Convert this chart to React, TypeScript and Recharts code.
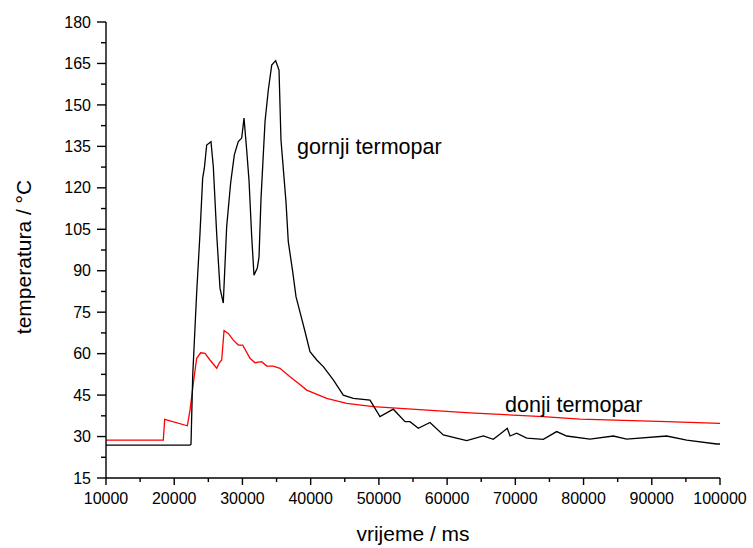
import React from 'react';
import { LineChart, Line, XAxis, YAxis, ReferenceDot, Label } from 'recharts';

// gornji termopar (upper thermocouple)
const gornjiTime = [
  10000, 22300, 22460, 22710, 23290, 23780, 24170, 24410, 24760, 25390, 25730, 26230, 26710, 27190,
  27690, 28280, 28810, 29390, 29890, 30230, 30620, 30960, 31360, 31690, 32180, 32430, 32720,
  33310, 33790, 34290, 34870, 35360, 35650, 36380, 36720, 37370, 37850, 38540, 39170, 39900,
  40890, 41850, 43320, 44300, 44780, 46250, 48700, 49430, 50160, 52110, 53830, 54560, 55780,
  57490, 59440, 62870, 65310, 66770, 68240, 68820, 69220, 70200, 71670, 74100, 76060, 77530,
  80940, 84360, 86320, 92180, 95120, 99520, 100000,
];
const gornjiTemp = [
  26.9, 26.9, 27.2, 52, 82, 103.6, 123.5, 127, 135.5, 136.7, 127.6, 103, 83.7, 78.3,
  106, 122, 131.9, 136.7, 138, 145.2, 133.7, 122.8, 102.3, 88.4, 91, 95, 116,
  144, 155.4, 164.4, 166, 162.6, 137.3, 115, 100.5, 89.6, 80.6, 74, 68, 60.7,
  57.7, 55.3, 50.5, 46.8, 45, 43.8, 43.2, 40.2, 37.2, 39.9, 35.4, 35.4, 33,
  35.1, 30.6, 28.5, 30.2, 29, 31.8, 33, 30.2, 31.2, 29.4, 29, 31.8, 30.2,
  29.1, 30.2, 29.1, 30.2, 28.7, 27.3, 27.3,
];

// donji termopar (lower thermocouple)
const donjiTime = [
  10000, 18400, 18600, 21920, 22310, 22800, 23290, 23880, 24510, 25240, 26230, 26610, 26960,
  27300, 27930, 28660, 29390, 30040, 31110, 31840, 32820, 33560, 34520, 35500, 36970, 38190,
  39420, 42350, 45280, 49180, 53100, 63360, 74060, 79480, 92230, 100000,
];
const donjiTemp = [
  28.7, 28.7, 36.2, 33.9, 39.4, 49.3, 58.3, 60.3, 60.1, 57.7, 54.7, 56.7, 57.7,
  68.3, 67.3, 64.9, 63.1, 63.1, 58.3, 56.7, 57.1, 55.5, 55.5, 54.7, 51.6, 49.3,
  46.8, 43.8, 42, 40.8, 40.2, 38.6, 37.2, 36.3, 35.4, 34.8,
];

const xMajorTicks = [10000, 20000, 30000, 40000, 50000, 60000, 70000, 80000, 90000, 100000];
const xMinorTicks = [15000, 25000, 35000, 45000, 55000, 65000, 75000, 85000, 95000];
const yMajorTicks = [15, 30, 45, 60, 75, 90, 105, 120, 135, 150, 165, 180];
const yMinorTicks = [22.5, 37.5, 52.5, 67.5, 82.5, 97.5, 112.5, 127.5, 142.5, 157.5, 172.5];

const gornjiData = gornjiTime.map((ms, i) => ({ ms, t: gornjiTemp[i] }));
const donjiData = donjiTime.map((ms, i) => ({ ms, t: donjiTemp[i] }));
const xTicks = [...xMajorTicks, ...xMinorTicks].sort((a, b) => a - b);
const yTicks = [...yMajorTicks, ...yMinorTicks].sort((a, b) => a - b);

const FONT = '"Liberation Sans", Arial, sans-serif';
const X_TICK_SIZE = 7;
const X_TICK_MARGIN = 8;
const Y_TICK_SIZE = 9;
const Y_TICK_MARGIN = 6;

const XTick = (props: any) => {
  const { x, y, payload } = props;
  const v = payload.value;
  const major = xMajorTicks.includes(v);
  const y0 = y - X_TICK_SIZE - X_TICK_MARGIN;
  return (
    <g>
      <line x1={x} x2={x} y1={y0} y2={y0 + (major ? X_TICK_SIZE : 4)} stroke="#000" strokeWidth={1.4} />
      {major && (
        <text x={x} y={y} dy="0.71em" textAnchor="middle" fontSize={16} fill="#000" fontFamily={FONT}>
          {String(v)}
        </text>
      )}
    </g>
  );
};

const YTick = (props: any) => {
  const { x, y, payload } = props;
  const v = payload.value;
  const major = yMajorTicks.includes(v);
  const x0 = x + Y_TICK_SIZE + Y_TICK_MARGIN;
  return (
    <g>
      <line x1={x0 - (major ? Y_TICK_SIZE : 5)} x2={x0} y1={y} y2={y} stroke="#000" strokeWidth={1.4} />
      {major && (
        <text x={x} y={y} dy="0.355em" textAnchor="end" fontSize={16} fill="#000" fontFamily={FONT}>
          {String(v)}
        </text>
      )}
    </g>
  );
};

export default function App() {
  return (
    <div style={{ fontFamily: FONT, width: 753, height: 548, background: '#fff' }}>
      <style>{`body{margin:0;overflow:hidden;background:#fff}`}</style>
      <LineChart
        width={753}
        height={548}
        margin={{ top: 22, right: 33, left: 46, bottom: 0 }}
      >
        <XAxis
          type="number"
          dataKey="ms"
          domain={[10000, 100000]}
          ticks={xTicks}
          interval={0}
          allowDataOverflow
          height={70}
          tickSize={X_TICK_SIZE}
          tickMargin={X_TICK_MARGIN}
          tickLine={false}
          tick={<XTick />}
          axisLine={{ stroke: '#000', strokeWidth: 1.4 }}
        >
          <Label value="vrijeme / ms" position="insideBottom" offset={7} fill="#000" fontSize={21} fontFamily={FONT} />
        </XAxis>
        <YAxis
          type="number"
          dataKey="t"
          domain={[15, 180]}
          ticks={yTicks}
          interval={0}
          allowDataOverflow
          width={60}
          tickSize={Y_TICK_SIZE}
          tickMargin={Y_TICK_MARGIN}
          tickLine={false}
          tick={<YTick />}
          axisLine={{ stroke: '#000', strokeWidth: 1.4 }}
        >
          <Label value="temperatura / °C" position="center" angle={-90} dx={-52} dy={7} fill="#000" fontSize={21} fontFamily={FONT} />
        </YAxis>
        <Line
          data={donjiData}
          dataKey="t"
          type="linear"
          stroke="#ff0000"
          strokeWidth={1.3}
          dot={false}
          activeDot={false}
          isAnimationActive={false}
        />
        <Line
          data={gornjiData}
          dataKey="t"
          type="linear"
          stroke="#000000"
          strokeWidth={1.3}
          dot={false}
          activeDot={false}
          isAnimationActive={false}
        />
        <ReferenceDot x={38000} y={135} r={0} stroke="none" fill="none"
          label={{ value: 'gornji termopar', position: 'right', offset: 0, fill: '#000', fontSize: 21.5, fontFamily: FONT }} />
        <ReferenceDot x={68490} y={41.8} r={0} stroke="none" fill="none"
          label={{ value: 'donji termopar', position: 'right', offset: 0, fill: '#000', fontSize: 21.5, fontFamily: FONT }} />
      </LineChart>
    </div>
  );
}
